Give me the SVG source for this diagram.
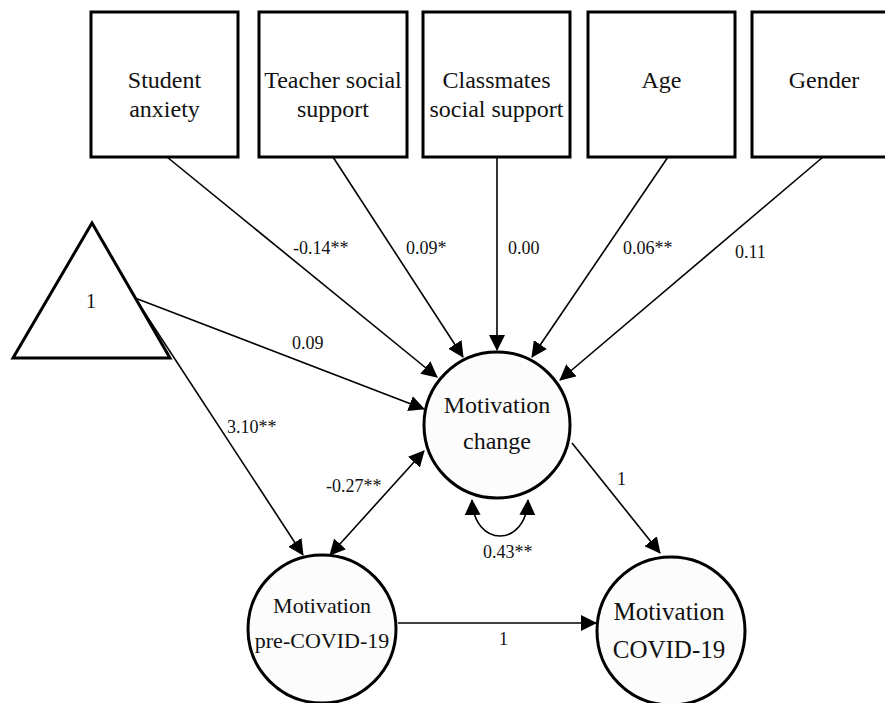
<svg xmlns="http://www.w3.org/2000/svg" width="885" height="703" viewBox="0 0 885 703">
<style>
.box{fill:#fff;stroke:#000;stroke-width:3}
.lat{fill:#fcfcfc;stroke:#000;stroke-width:3}
.t{font-family:"Liberation Serif","Times New Roman",serif;font-size:24px;fill:#111;text-anchor:middle}
.ts{font-family:"Liberation Serif","Times New Roman",serif;font-size:22px;fill:#111;text-anchor:middle}
.lb{font-family:"Liberation Serif","Times New Roman",serif;font-size:18px;fill:#111}
.c{fill:none;stroke:#000;stroke-width:1.6}
</style>
<defs>
<marker id="ah" markerUnits="userSpaceOnUse" markerWidth="16" markerHeight="16" viewBox="0 0 16 16" refX="15" refY="8" orient="auto-start-reverse">
<path d="M0,0 L16,8 L0,16 z" fill="#000"/>
</marker>
</defs>
<rect width="885" height="703" fill="#fff"/>
<g id="connectors">
<line class="c" x1="167" y1="157" x2="437" y2="377" marker-end="url(#ah)"/>
<line class="c" x1="333" y1="157" x2="463" y2="357" marker-end="url(#ah)"/>
<line class="c" x1="497" y1="157" x2="497" y2="350" marker-end="url(#ah)"/>
<line class="c" x1="668" y1="157" x2="532" y2="357" marker-end="url(#ah)"/>
<line class="c" x1="823" y1="157" x2="560" y2="380" marker-end="url(#ah)"/>
<line class="c" x1="135" y1="298" x2="424" y2="409" marker-end="url(#ah)"/>
<line class="c" x1="135" y1="298" x2="303" y2="555" marker-end="url(#ah)"/>
<line class="c" x1="330" y1="555" x2="424" y2="451" marker-start="url(#ah)" marker-end="url(#ah)"/>
<line class="c" x1="572" y1="443" x2="660" y2="553" marker-end="url(#ah)"/>
<line class="c" x1="398" y1="623" x2="596" y2="623" marker-end="url(#ah)"/>
<path class="c" d="M472,500 C474,548 526,548 528,500" marker-start="url(#ah)" marker-end="url(#ah)"/>
<text class="lb" x="293" y="254">-0.14**</text>
<text class="lb" x="406" y="254">0.09*</text>
<text class="lb" x="508" y="254">0.00</text>
<text class="lb" x="623" y="254">0.06**</text>
<text class="lb" x="735" y="258">0.11</text>
<text class="lb" x="292" y="349">0.09</text>
<text class="lb" x="227" y="433">3.10**</text>
<text class="lb" x="326" y="492">-0.27**</text>
<text class="lb" x="617" y="485">1</text>
<text class="lb" x="483" y="558">0.43**</text>
<text class="lb" x="499" y="645">1</text>
</g>
<g id="student-anxiety">
<rect class="box" x="91" y="12" width="147" height="145"/>
<text class="t" x="164.5" y="88">Student</text>
<text class="t" x="164.5" y="117">anxiety</text>
</g>
<g id="teacher-social-support">
<rect class="box" x="259" y="12" width="148" height="145"/>
<text class="t" x="333" y="88">Teacher social</text>
<text class="t" x="333" y="117">support</text>
</g>
<g id="classmates-social-support">
<rect class="box" x="423" y="12" width="147" height="145"/>
<text class="t" x="496.5" y="88">Classmates</text>
<text class="t" x="496.5" y="117">social support</text>
</g>
<g id="age">
<rect class="box" x="588" y="12" width="147" height="145"/>
<text class="t" x="661.5" y="88">Age</text>
</g>
<g id="gender">
<rect class="box" x="752" y="12" width="146" height="145"/>
<text class="t" x="824" y="88">Gender</text>
</g>
<g id="constant">
<polygon class="box" points="92,223 13,358 170,358"/>
<text class="t" x="91" y="308" style="font-size:20px">1</text>
</g>
<g id="motivation-change">
<circle class="lat" cx="497" cy="425" r="73"/>
<text class="t" x="497" y="413">Motivation</text>
<text class="t" x="497" y="449">change</text>
</g>
<g id="motivation-pre-covid">
<circle class="lat" cx="322" cy="629" r="74"/>
<text class="ts" x="322" y="613">Motivation</text>
<text class="ts" x="322" y="648">pre-COVID-19</text>
</g>
<g id="motivation-covid">
<circle class="lat" cx="671" cy="631" r="74"/>
<text class="t" x="669" y="620" style="font-size:25px">Motivation</text>
<text class="t" x="669" y="658" style="font-size:25px">COVID-19</text>
</g>
</svg>
